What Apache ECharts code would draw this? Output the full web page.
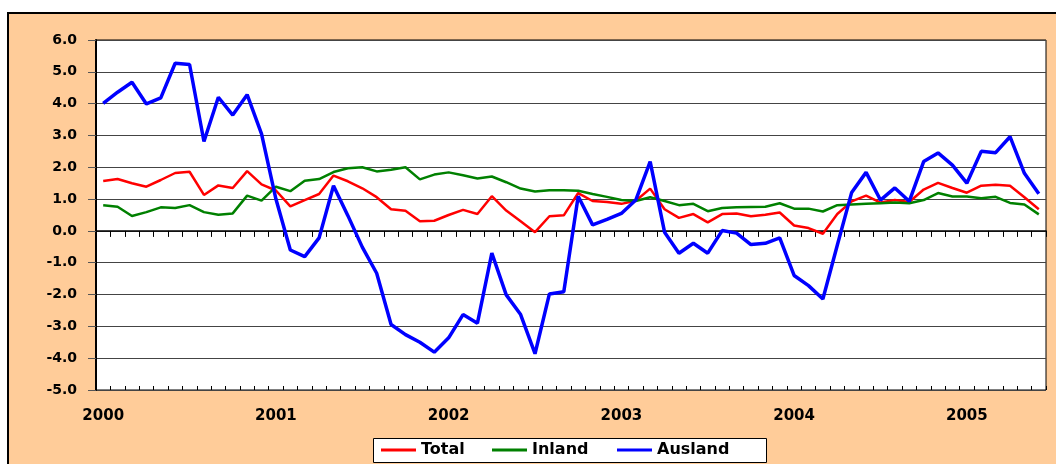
<!DOCTYPE html>
<html>
<head>
<meta charset="utf-8">
<script src="https://cdn.jsdelivr.net/npm/echarts@6/dist/echarts.min.js"></script>
<style>
  html, body { margin: 0; padding: 0; background: #fff; }
  #frame {
    position: absolute; left: 7px; top: 12px; width: 1060px; height: 460px;
    border-left: 2px solid #000; border-top: 2px solid #000; background: #ffcc99;
  }
  #chart { position: absolute; left: 0; top: 0; width: 1056px; height: 464px; }
</style>
</head>
<body>
<div id="frame"></div>
<div id="chart"></div>
<script>
// monthly, Jan 2000 .. Jun 2005
const years = ['2000', '2001', '2002', '2003', '2004', '2005']
const monthsInLastYear = 6

const total = [1.57, 1.63, 1.50, 1.39, 1.60, 1.82, 1.86, 1.13, 1.43, 1.35, 1.88,
  1.46, 1.27, 0.77, 0.97, 1.16, 1.74, 1.56, 1.34, 1.06, 0.68, 0.63,
  0.30, 0.32, 0.50, 0.66, 0.53, 1.09, 0.64, 0.30, -0.04, 0.46, 0.49,
  1.19, 0.94, 0.91, 0.85, 0.95, 1.33, 0.68, 0.41, 0.53, 0.27, 0.53,
  0.55, 0.46, 0.51, 0.58, 0.17, 0.09, -0.09, 0.53, 0.93, 1.11, 0.89,
  0.97, 0.91, 1.30, 1.51, 1.35, 1.20, 1.42, 1.45, 1.42, 1.06, 0.68]

const inland = [0.81, 0.76, 0.47, 0.59, 0.74, 0.72, 0.81, 0.59, 0.51, 0.55, 1.11,
  0.95, 1.39, 1.25, 1.58, 1.63, 1.85, 1.97, 2.00, 1.87, 1.92, 2.00,
  1.62, 1.77, 1.84, 1.75, 1.65, 1.71, 1.53, 1.33, 1.24, 1.28, 1.28,
  1.26, 1.16, 1.07, 0.97, 0.94, 1.06, 0.94, 0.81, 0.85, 0.62, 0.72,
  0.74, 0.75, 0.76, 0.87, 0.70, 0.70, 0.61, 0.81, 0.83, 0.85, 0.87,
  0.89, 0.87, 0.97, 1.19, 1.08, 1.08, 1.03, 1.07, 0.88, 0.83, 0.52]

const ausland = [4.01, 4.36, 4.67, 3.99, 4.18, 5.27, 5.23, 2.81, 4.20, 3.64, 4.28,
  3.05, 1.00, -0.60, -0.81, -0.22, 1.42, 0.48, -0.51, -1.33, -2.94, -3.26,
  -3.50, -3.81, -3.36, -2.63, -2.90, -0.70, -2.01, -2.63, -3.86, -1.98, -1.91,
  1.09, 0.19, 0.36, 0.55, 0.97, 2.18, -0.04, -0.70, -0.39, -0.70, 0.01,
  -0.07, -0.43, -0.39, -0.22, -1.40, -1.72, -2.14, -0.45, 1.21, 1.84, 0.97,
  1.35, 0.93, 2.18, 2.45, 2.07, 1.50, 2.50, 2.46, 2.96, 1.81, 1.17]

const categories = []
years.forEach((y, k) => {
  const n = k === years.length - 1 ? monthsInLastYear : 12
  for (let m = 1; m <= n; m++) categories.push(y + '-' + (m < 10 ? '0' + m : m))
})

const font = '"DejaVu Sans", Verdana, sans-serif'
const boldText = { fontFamily: font, fontWeight: 'bold', fontSize: 15, color: '#000' }

const chart = echarts.init(document.getElementById('chart'), null, { renderer: 'canvas' })

const tickAxis = (inside) => ({
  type: 'category',
  data: categories,
  boundaryGap: true,
  position: 'bottom',
  axisLine: { show: !inside, onZero: true, lineStyle: { color: '#000', width: 1.5 } },
  axisTick: { show: true, interval: 0, inside: inside, length: inside ? 4 : 6, lineStyle: { color: '#000', width: 1 } },
  axisLabel: { show: false },
  splitLine: { show: false }
})

// one legend per series so each item sits where the original puts it
const legendAt = (name, left) => ({
  data: [name],
  left: left, top: 442,
  padding: 0,
  icon: 'rect', itemWidth: 35, itemHeight: 3,
  textStyle: { ...boldText, fontSize: 16 }
})

chart.setOption({
  animation: false,
  grid: {
    left: 96, right: 10, top: 40, bottom: 74,
    show: true, backgroundColor: '#fff', borderColor: '#000', borderWidth: 1
  },
  graphic: [{
    type: 'rect', z: 3,
    shape: { x: 373.5, y: 438.5, width: 393, height: 24 },
    style: { fill: '#fff', stroke: '#000', lineWidth: 1 }
  }],
  legend: [
    legendAt('Total', 381),
    legendAt('Inland', 492),
    legendAt('Ausland', 617)
  ],
  xAxis: [
    tickAxis(false),
    tickAxis(true),
    {
      type: 'category',
      data: categories,
      boundaryGap: true,
      position: 'bottom',
      axisLine: { show: false, onZero: false },
      axisTick: { show: false },
      axisLabel: {
        interval: 11, margin: 19,
        formatter: (v) => v.slice(0, 4),
        ...boldText
      },
      splitLine: { show: false }
    }
  ],
  yAxis: {
    type: 'value',
    min: -5, max: 6, interval: 1,
    axisLine: { show: true, lineStyle: { color: '#000', width: 2 } },
    axisTick: { show: true, length: 8, lineStyle: { color: '#555' } },
    axisLabel: {
      margin: 19,
      formatter: (v) => v.toFixed(1),
      fontFamily: font, fontWeight: 'bold', fontSize: 14, color: '#000'
    },
    splitLine: { show: true, lineStyle: { color: '#444', width: 1 } }
  },
  series: [
    { name: 'Total', type: 'line', data: total, xAxisIndex: 0, symbol: 'none', color: '#ff0000', lineStyle: { width: 2.5 } },
    { name: 'Inland', type: 'line', data: inland, xAxisIndex: 0, symbol: 'none', color: '#008000', lineStyle: { width: 2.5 } },
    { name: 'Ausland', type: 'line', data: ausland, xAxisIndex: 0, symbol: 'none', color: '#0000ff', lineStyle: { width: 3.5 } }
  ]
})
</script>
</body>
</html>
